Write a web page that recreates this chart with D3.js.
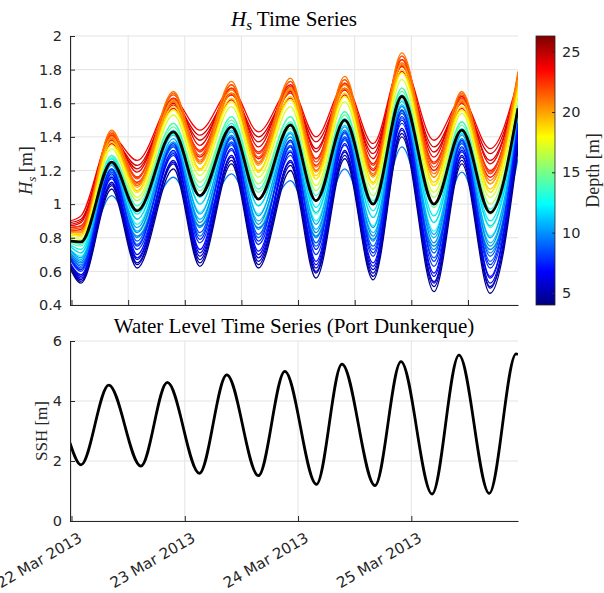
<!DOCTYPE html>
<html>
<head>
<meta charset="utf-8">
<script src="https://cdn.jsdelivr.net/npm/d3@7"></script>
<style>
  body { margin: 0; background: #fff; }
  svg { display: block; }
</style>
</head>
<body>
<div id="chart"></div>
<script>
// hours after 22 Mar 2013 00:00
const hsHours = [-0.32, 2.0, 8.5, 13.9, 21.6, 27.2, 33.9, 39.6, 46.4, 51.8, 57.9, 63.9, 70.0, 76.8, 82.7, 88.7, 94.6];

// black reference line
const hsMean = [0.78, 0.775, 1.25, 0.96, 1.43, 1.05, 1.46, 1.03, 1.47, 1.02, 1.50, 1.00, 1.64, 1.00, 1.44, 0.95, 1.57];

// one line per grid point, coloured by depth [m]
const hsDepths = [23.6, 24.2, 24.5, 24, 23.5, 23, 22.5, 22, 21.5, 21, 20.5, 20, 19, 18, 17, 16, 15, 14.5, 14, 13.5, 13, 12,
  11.5, 11, 10.5, 10, 9.8, 9.5, 9, 8.5, 8, 7.5, 7, 6.5, 6, 5.5, 5, 4.3];
const hsValues = [
  [0.90, 0.93, 1.40, 1.26, 1.62, 1.44, 1.68, 1.43, 1.69, 1.40, 1.71, 1.36, 1.84, 1.38, 1.62, 1.33, 1.74],
  [0.88, 0.90, 1.39, 1.21, 1.61, 1.38, 1.66, 1.37, 1.68, 1.33, 1.69, 1.30, 1.83, 1.31, 1.61, 1.26, 1.73],
  [0.89, 0.91, 1.39, 1.23, 1.60, 1.41, 1.65, 1.40, 1.67, 1.37, 1.68, 1.33, 1.82, 1.34, 1.60, 1.30, 1.72],
  [0.87, 0.89, 1.41, 1.19, 1.63, 1.35, 1.69, 1.34, 1.71, 1.31, 1.72, 1.27, 1.86, 1.28, 1.64, 1.24, 1.75],
  [0.84, 0.85, 1.36, 1.13, 1.57, 1.28, 1.62, 1.27, 1.63, 1.23, 1.65, 1.20, 1.79, 1.20, 1.57, 1.16, 1.69],
  [0.86, 0.87, 1.38, 1.16, 1.59, 1.32, 1.65, 1.31, 1.66, 1.27, 1.68, 1.24, 1.82, 1.25, 1.60, 1.20, 1.71],
  [0.86, 0.87, 1.41, 1.16, 1.63, 1.31, 1.69, 1.30, 1.70, 1.27, 1.72, 1.23, 1.86, 1.24, 1.63, 1.19, 1.75],
  [0.85, 0.86, 1.42, 1.15, 1.65, 1.29, 1.71, 1.28, 1.73, 1.25, 1.74, 1.21, 1.88, 1.22, 1.65, 1.18, 1.77],
  [0.83, 0.83, 1.43, 1.11, 1.66, 1.25, 1.71, 1.24, 1.73, 1.20, 1.74, 1.17, 1.88, 1.16, 1.66, 1.12, 1.77],
  [0.84, 0.84, 1.44, 1.12, 1.67, 1.26, 1.73, 1.25, 1.75, 1.22, 1.76, 1.18, 1.90, 1.18, 1.67, 1.14, 1.79],
  [0.82, 0.81, 1.39, 1.07, 1.61, 1.20, 1.66, 1.19, 1.68, 1.15, 1.69, 1.12, 1.83, 1.11, 1.61, 1.07, 1.73],
  [0.83, 0.83, 1.40, 1.10, 1.62, 1.24, 1.68, 1.23, 1.69, 1.19, 1.71, 1.16, 1.84, 1.16, 1.62, 1.12, 1.74],
  [0.82, 0.82, 1.37, 1.08, 1.58, 1.21, 1.63, 1.20, 1.64, 1.17, 1.66, 1.13, 1.80, 1.13, 1.58, 1.09, 1.70],
  [0.82, 0.81, 1.35, 1.07, 1.56, 1.20, 1.61, 1.19, 1.62, 1.15, 1.64, 1.12, 1.78, 1.11, 1.56, 1.07, 1.68],
  [0.81, 0.79, 1.33, 1.04, 1.53, 1.17, 1.58, 1.16, 1.58, 1.11, 1.61, 1.09, 1.74, 1.07, 1.54, 1.04, 1.64],
  [0.79, 0.78, 1.29, 1.02, 1.48, 1.13, 1.52, 1.12, 1.52, 1.08, 1.55, 1.05, 1.69, 1.04, 1.49, 1.00, 1.59],
  [0.70, 0.65, 1.21, 0.81, 1.36, 0.87, 1.40, 0.86, 1.38, 0.81, 1.43, 0.79, 1.56, 0.75, 1.38, 0.73, 1.48],
  [0.77, 0.75, 1.28, 0.97, 1.46, 1.08, 1.50, 1.07, 1.49, 1.02, 1.53, 1.00, 1.67, 0.98, 1.47, 0.94, 1.57],
  [0.75, 0.71, 1.25, 0.91, 1.42, 1.00, 1.46, 0.99, 1.45, 0.94, 1.49, 0.92, 1.62, 0.89, 1.43, 0.86, 1.53],
  [0.78, 0.76, 1.29, 0.99, 1.48, 1.10, 1.52, 1.09, 1.52, 1.05, 1.55, 1.02, 1.69, 1.00, 1.49, 0.97, 1.59],
  [0.73, 0.69, 1.21, 0.88, 1.37, 0.95, 1.41, 0.94, 1.40, 0.90, 1.44, 0.87, 1.58, 0.84, 1.39, 0.81, 1.49],
  [0.76, 0.73, 1.27, 0.94, 1.44, 1.04, 1.48, 1.03, 1.48, 0.98, 1.51, 0.96, 1.65, 0.93, 1.45, 0.90, 1.56],
  [0.75, 0.71, 1.24, 0.91, 1.41, 1.00, 1.44, 0.99, 1.43, 0.95, 1.47, 0.92, 1.61, 0.89, 1.42, 0.87, 1.52],
  [0.72, 0.67, 1.19, 0.84, 1.34, 0.91, 1.37, 0.90, 1.35, 0.85, 1.40, 0.83, 1.54, 0.80, 1.36, 0.77, 1.45],
  [0.73, 0.68, 1.23, 0.86, 1.39, 0.94, 1.43, 0.93, 1.42, 0.88, 1.46, 0.86, 1.59, 0.82, 1.41, 0.80, 1.50],
  [0.70, 0.64, 1.17, 0.80, 1.31, 0.86, 1.35, 0.85, 1.32, 0.80, 1.38, 0.78, 1.51, 0.73, 1.33, 0.71, 1.43],
  [0.71, 0.66, 1.21, 0.83, 1.37, 0.89, 1.41, 0.88, 1.40, 0.83, 1.44, 0.81, 1.58, 0.77, 1.39, 0.75, 1.49],
  [0.70, 0.65, 1.05, 0.81, 1.16, 0.87, 1.18, 0.86, 1.14, 0.81, 1.21, 0.79, 1.34, 0.75, 1.19, 0.73, 1.27],
  [0.68, 0.62, 1.20, 0.76, 1.35, 0.81, 1.39, 0.80, 1.37, 0.75, 1.42, 0.73, 1.55, 0.68, 1.37, 0.66, 1.47],
  [0.69, 0.63, 1.19, 0.78, 1.34, 0.83, 1.37, 0.82, 1.35, 0.77, 1.40, 0.75, 1.54, 0.71, 1.36, 0.69, 1.45],
  [0.67, 0.60, 1.15, 0.73, 1.29, 0.77, 1.32, 0.76, 1.29, 0.70, 1.35, 0.69, 1.48, 0.63, 1.31, 0.62, 1.40],
  [0.68, 0.61, 1.21, 0.75, 1.36, 0.79, 1.40, 0.78, 1.38, 0.73, 1.43, 0.71, 1.56, 0.66, 1.38, 0.64, 1.48],
  [0.65, 0.58, 1.18, 0.70, 1.32, 0.73, 1.36, 0.72, 1.34, 0.66, 1.39, 0.65, 1.52, 0.59, 1.34, 0.57, 1.44],
  [0.65, 0.57, 1.16, 0.68, 1.30, 0.71, 1.33, 0.70, 1.31, 0.64, 1.36, 0.63, 1.50, 0.57, 1.32, 0.56, 1.42],
  [0.64, 0.56, 1.13, 0.67, 1.26, 0.69, 1.29, 0.68, 1.26, 0.62, 1.32, 0.61, 1.45, 0.54, 1.29, 0.53, 1.37],
  [0.63, 0.55, 1.12, 0.65, 1.25, 0.67, 1.28, 0.66, 1.25, 0.60, 1.31, 0.59, 1.44, 0.53, 1.28, 0.51, 1.36],
  [0.63, 0.54, 1.11, 0.64, 1.24, 0.65, 1.26, 0.64, 1.23, 0.59, 1.29, 0.57, 1.42, 0.51, 1.26, 0.50, 1.35],
  [0.62, 0.53, 1.09, 0.62, 1.21, 0.63, 1.24, 0.62, 1.20, 0.56, 1.27, 0.55, 1.40, 0.48, 1.24, 0.47, 1.32]
];

// water level at Port Dunkerque
const sshHours = [-0.32, 2.0, 7.9, 14.7, 20.3, 27.1, 32.9, 39.6, 45.2, 51.9, 57.3, 64.3, 69.8, 76.4, 82.1, 88.5, 94.2, 94.6];
const sshValues = [2.60, 1.87, 4.53, 1.83, 4.62, 1.59, 4.87, 1.51, 4.99, 1.22, 5.23, 1.18, 5.31, 0.90, 5.53, 0.92, 5.57, 5.55];

const hsTicks = [0.4, 0.6, 0.8, 1, 1.2, 1.4, 1.6, 1.8, 2];
const sshTicks = [0, 2, 4, 6];
const depthTicks = [5, 10, 15, 20, 25];
const depthRange = [4, 26.3];

const jetColors = ['#00007f', '#0000ff', '#007fff', '#00ffff', '#7fff7f', '#ffff00', '#ff7f00', '#ff0000', '#7f0000'];

const t0 = new Date(2013, 2, 22, 0, 0);
const toDate = (h) => new Date(t0.getTime() + h * 3600 * 1000);

const drawChart = (id) => {
  const width = 604;
  const height = 593;
  const left = 70;
  const right = 518;
  const topBox = { top: 36, bottom: 305 };
  const botBox = { top: 341, bottom: 521 };
  const axisColor = '#262626';
  const gridColor = '#e3e3e3';
  const tickFont = 'DejaVu Sans, sans-serif';
  const serif = 'Liberation Serif, Times New Roman, serif';

  const svg = d3
    .select(`#${id}`)
    .append('svg')
    .attr('width', width)
    .attr('height', height);

  const x = d3
    .scaleTime()
    .domain([toDate(-0.32), toDate(94.6)])
    .range([left, right]);

  const yHs = d3.scaleLinear().domain([0.4, 2]).range([topBox.bottom, topBox.top]);
  const ySsh = d3.scaleLinear().domain([0, 6]).range([botBox.bottom, botBox.top]);

  const depthColor = d3
    .scaleLinear()
    .domain(jetColors.map((c, i) => depthRange[0] + (i * (depthRange[1] - depthRange[0])) / (jetColors.length - 1)))
    .range(jetColors)
    .interpolate(d3.interpolateRgb);

  const defs = svg.append('defs');
  defs.append('clipPath').attr('id', 'clipTop')
    .append('rect').attr('x', left).attr('y', topBox.top)
    .attr('width', right - left).attr('height', topBox.bottom - topBox.top);
  defs.append('clipPath').attr('id', 'clipBot')
    .append('rect').attr('x', left).attr('y', botBox.top - 5)
    .attr('width', right - left).attr('height', botBox.bottom - botBox.top + 5);

  // ---------- grids ----------
  const topTicks = x.ticks(d3.timeHour.every(12));
  const dayTicks = x.ticks(d3.timeDay.every(1));

  const drawGrid = (g, xt, ys, yt, box) => {
    g.selectAll('.vgrid').data(xt).enter().append('line')
      .attr('x1', (d) => x(d)).attr('x2', (d) => x(d))
      .attr('y1', box.top).attr('y2', box.bottom)
      .attr('stroke', gridColor).attr('stroke-width', 1);
    g.selectAll('.hgrid').data(yt).enter().append('line')
      .attr('x1', left).attr('x2', right)
      .attr('y1', (d) => ys(d)).attr('y2', (d) => ys(d))
      .attr('stroke', gridColor).attr('stroke-width', 1);
  };

  drawGrid(svg.append('g'), topTicks, yHs, hsTicks, topBox);
  drawGrid(svg.append('g'), dayTicks, ySsh, sshTicks, botBox);

  // ---------- Hs lines ----------
  const hsLine = d3.line()
    .x((d, i) => x(toDate(hsHours[i])))
    .y((d) => yHs(d))
    .curve(d3.curveMonotoneX);

  const gTop = svg.append('g').attr('clip-path', 'url(#clipTop)');
  gTop.selectAll('.hs')
    .data(hsValues)
    .enter()
    .append('path')
    .attr('class', 'hs')
    .attr('d', (d) => hsLine(d))
    .attr('fill', 'none')
    .attr('stroke', (d, i) => depthColor(hsDepths[i]))
    .attr('stroke-width', 1.3);

  gTop.append('path')
    .attr('d', hsLine(hsMean))
    .attr('fill', 'none')
    .attr('stroke', '#000')
    .attr('stroke-width', 2.8);

  // ---------- SSH line ----------
  const sshLine = d3.line()
    .x((d, i) => x(toDate(sshHours[i])))
    .y((d) => ySsh(d))
    .curve(d3.curveMonotoneX);

  svg.append('g').attr('clip-path', 'url(#clipBot)')
    .append('path')
    .attr('d', sshLine(sshValues))
    .attr('fill', 'none')
    .attr('stroke', '#000')
    .attr('stroke-width', 2.8);

  // ---------- axes ----------
  const styleAxis = (g) => {
    g.selectAll('path.domain').attr('stroke', axisColor).attr('stroke-width', 1);
    g.selectAll('.tick line').attr('stroke', axisColor).attr('stroke-width', 1);
    g.selectAll('.tick text')
      .attr('fill', axisColor)
      .attr('font-family', tickFont)
      .attr('font-size', 14.5);
  };

  svg.append('g')
    .attr('transform', `translate(${left},0)`)
    .call(d3.axisLeft(yHs).tickValues(hsTicks).tickSize(-5).tickSizeOuter(0).tickPadding(8)
      .tickFormat(d3.format('~g')))
    .call(styleAxis);

  svg.append('g')
    .attr('transform', `translate(0,${topBox.bottom})`)
    .call(d3.axisBottom(x).tickValues(topTicks).tickSize(-5).tickSizeOuter(0).tickFormat(''))
    .call(styleAxis);

  svg.append('g')
    .attr('transform', `translate(${left},0)`)
    .call(d3.axisLeft(ySsh).tickValues(sshTicks).tickSize(-5).tickSizeOuter(0).tickPadding(8)
      .tickFormat(d3.format('d')))
    .call(styleAxis);

  const xBot = svg.append('g')
    .attr('transform', `translate(0,${botBox.bottom})`)
    .call(d3.axisBottom(x).tickValues(dayTicks).tickSize(-5).tickSizeOuter(0)
      .tickFormat(d3.timeFormat('%-d %b %Y')))
    .call(styleAxis);

  xBot.selectAll('.tick text')
    .attr('text-anchor', 'end')
    .attr('x', 0)
    .attr('y', 0)
    .attr('dy', 0)
    .attr('font-size', 15)
    .attr('transform', 'translate(11,20) rotate(-30)');

  // ---------- colorbar ----------
  const cb = { x: 536, w: 19, top: topBox.top, bottom: topBox.bottom };
  const yDepth = d3.scaleLinear().domain(depthRange).range([cb.bottom, cb.top]);

  const grad = defs.append('linearGradient')
    .attr('id', 'jet')
    .attr('x1', 0).attr('y1', 1).attr('x2', 0).attr('y2', 0);
  grad.selectAll('stop')
    .data(jetColors)
    .enter()
    .append('stop')
    .attr('offset', (d, i) => i / (jetColors.length - 1))
    .attr('stop-color', (d) => d);

  svg.append('rect')
    .attr('x', cb.x).attr('y', cb.top)
    .attr('width', cb.w).attr('height', cb.bottom - cb.top)
    .attr('fill', 'url(#jet)')
    .attr('stroke', axisColor)
    .attr('stroke-width', 0.8);

  svg.append('g')
    .attr('transform', `translate(${cb.x + cb.w},0)`)
    .call(d3.axisRight(yDepth).tickValues(depthTicks).tickSize(-3).tickSizeOuter(0).tickPadding(7))
    .call(styleAxis)
    .call((g) => g.select('path.domain').remove());

  svg.append('text')
    .attr('transform', `translate(599,${(cb.top + cb.bottom) / 2}) rotate(-90)`)
    .attr('text-anchor', 'middle')
    .attr('font-family', serif)
    .attr('font-size', 18)
    .attr('fill', axisColor)
    .text('Depth [m]');

  // ---------- titles and labels ----------
  const midX = (left + right) / 2;

  const t1 = svg.append('text')
    .attr('x', midX).attr('y', 26)
    .attr('text-anchor', 'middle')
    .attr('font-family', serif)
    .attr('font-size', 21)
    .attr('fill', '#000');
  t1.append('tspan').attr('font-style', 'italic').text('H');
  t1.append('tspan').attr('font-style', 'italic').attr('font-size', 15).attr('dy', 4).text('s');
  t1.append('tspan').attr('dy', -4).text(' Time Series');

  const yl = svg.append('text')
    .attr('transform', `translate(32,${(topBox.top + topBox.bottom) / 2}) rotate(-90)`)
    .attr('text-anchor', 'middle')
    .attr('font-family', serif)
    .attr('font-size', 18)
    .attr('fill', axisColor);
  yl.append('tspan').attr('font-style', 'italic').text('H');
  yl.append('tspan').attr('font-style', 'italic').attr('font-size', 13).attr('dy', 4).text('s');
  yl.append('tspan').attr('dy', -4).text(' [m]');

  svg.append('text')
    .attr('x', midX).attr('y', 333)
    .attr('text-anchor', 'middle')
    .attr('font-family', serif)
    .attr('font-size', 21)
    .attr('fill', '#000')
    .text('Water Level Time Series (Port Dunkerque)');

  svg.append('text')
    .attr('transform', `translate(46.5,${(botBox.top + botBox.bottom) / 2}) rotate(-90)`)
    .attr('text-anchor', 'middle')
    .attr('font-family', serif)
    .attr('font-size', 17)
    .attr('fill', axisColor)
    .text('SSH [m]');
};

drawChart('chart');
</script>
</body>
</html>
